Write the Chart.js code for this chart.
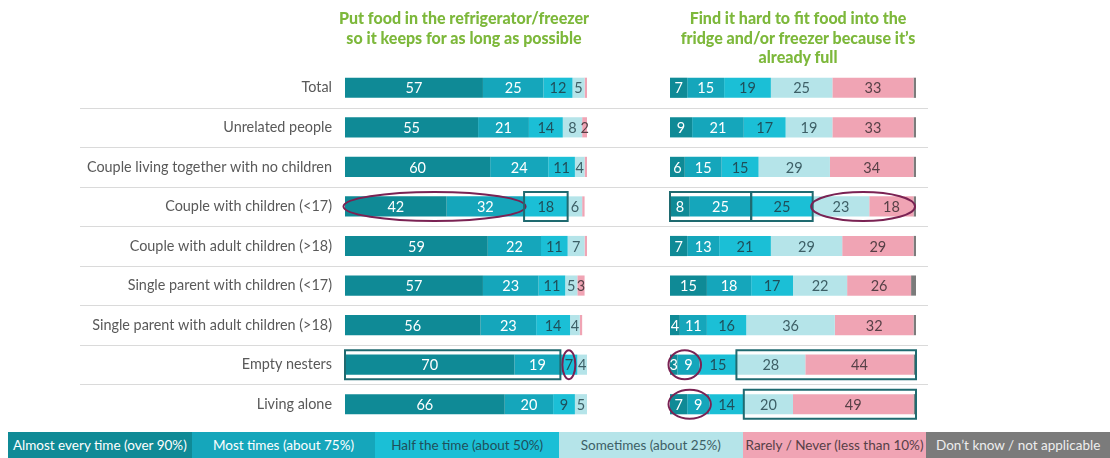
<!DOCTYPE html>
<html lang="en">
<head>
    <meta charset="UTF-8">
    <title>Fridge and freezer habits by household type</title>
    <style>
        body {
            margin: 0;
            width: 1110px;
            height: 458px;
            position: relative;
            overflow: hidden;
            background: #fff;
            font-family: Lato, "Open Sans", sans-serif;
        }
        .chartBox {
            position: absolute;
            top: 0;
            height: 446px;
        }
        #leftBox { left: 0; width: 700px; }
        #rightBox { left: 560px; width: 550px; }
        .title {
            position: absolute;
            top: 8px;
            width: 340px;
            margin-left: -170px;
            text-align: center;
            font-weight: 900;
            font-size: 16px;
            line-height: 19.5px;
            color: #7db83b;
        }
        #legend {
            position: absolute;
            left: 8px;
            top: 432px;
            width: 1102px;
            height: 26px;
            display: flex;
        }
        #legend div {
            flex: 1;
            text-align: center;
            font-size: 13.5px;
            line-height: 26px;
            white-space: nowrap;
        }
    </style>
    <script src="https://cdn.jsdelivr.net/npm/chart.js"></script>
</head>
<body>

<div class="chartBox" id="leftBox"><canvas id="leftChart"></canvas></div>
<div class="chartBox" id="rightBox"><canvas id="rightChart"></canvas></div>
<div class="title" style="left:464px;">Put food in the refrigerator/freezer<br>so it keeps for as long as possible</div>
<div class="title" style="left:798px;">Find it hard to fit food into the<br>fridge and/or freezer because it&#8217;s<br>already full</div>
<div id="legend"></div>

<script>
    const categories = [
        "Total", "Unrelated people", "Couple living together with no children",
        "Couple with children (<17)", "Couple with adult children (>18)",
        "Single parent with children (<17)", "Single parent with adult children (>18)",
        "Empty nesters", "Living alone"
    ];

    const seriesNames = [
        "Almost every time (over 90%)", "Most times (about 75%)", "Half the time (about 50%)",
        "Sometimes (about 25%)", "Rarely / Never (less than  10%)", "Don\u2019t know / not applicable"
    ];
    const seriesColors = ["#0f8a96", "#15a6bb", "#1bbfd6", "#b5e4e9", "#f0a4b4", "#7b7b7b"];
    const labelColors = ["#ffffff", "#ffffff", "#1f4f5a", "#3d5f66", "#574047", "#ffffff"];

    // Put food in the refrigerator/freezer so it keeps for as long as possible
    const keepAlmost   = [57, 55, 60, 42, 59, 57, 56, 70, 66];
    const keepMost     = [25, 21, 24, 32, 22, 23, 23, 19, 20];
    const keepHalf     = [12, 14, 11, 18, 11, 11, 14, 7, 9];
    const keepSome     = [5, 8, 4, 6, 7, 5, 4, 4, 5];
    const keepRarely   = [1, 2, 1, 1, 1, 3, 1, 0, 0];
    const keepDontKnow = [0, 0, 0, 0, 0, 0, 0, 0, 0];

    // Find it hard to fit food into the fridge and/or freezer because it's already full
    const fullAlmost   = [7, 9, 6, 8, 7, 15, 4, 3, 7];
    const fullMost     = [15, 21, 15, 25, 13, 18, 11, 9, 9];
    const fullHalf     = [19, 17, 15, 25, 21, 17, 16, 15, 14];
    const fullSome     = [25, 19, 29, 23, 29, 22, 36, 28, 20];
    const fullRarely   = [33, 33, 34, 18, 29, 26, 32, 44, 49];
    const fullDontKnow = [1, 1, 1, 1, 1, 2, 1, 1, 1];

    // highlighted segments: row index, first series, series after last, shape
    const leftHighlights = [
        { row: 3, from: 0, to: 2, shape: "ellipse" },
        { row: 3, from: 2, to: 3, shape: "box" },
        { row: 7, from: 0, to: 2, shape: "box" },
        { row: 7, from: 2, to: 3, shape: "ellipse" }
    ];
    const rightHighlights = [
        { row: 3, from: 0, to: 2, shape: "box" },
        { row: 3, from: 2, to: 3, shape: "box" },
        { row: 3, from: 3, to: 5, shape: "ellipse" },
        { row: 7, from: 0, to: 2, shape: "ellipse" },
        { row: 7, from: 3, to: 6, shape: "box" },
        { row: 8, from: 0, to: 2, shape: "ellipse" },
        { row: 8, from: 3, to: 6, shape: "box" }
    ];

    // legend as coloured boxes with the text inside
    const legend = document.getElementById("legend");
    seriesNames.forEach((name, i) => {
        const d = document.createElement("div");
        d.textContent = name;
        d.style.background = seriesColors[i];
        d.style.color = i === 5 ? "#eeeeee" : labelColors[i];
        legend.appendChild(d);
    });

    const rowLines = {
        id: "rowLines",
        beforeDatasetsDraw(chart, args, opts) {
            const ctx = chart.ctx, y = chart.scales.y;
            const x1 = opts.from, x2 = chart.chartArea.right + opts.pastRight;
            ctx.save();
            ctx.strokeStyle = "#dadada";
            ctx.lineWidth = 1.2;
            for (let i = 0; i < categories.length - 1; i++) {
                const py = Math.round((y.getPixelForValue(i) + y.getPixelForValue(i + 1)) / 2) + 0.5;
                ctx.beginPath();
                ctx.moveTo(x1, py);
                ctx.lineTo(x2, py);
                ctx.stroke();
            }
            ctx.restore();
        }
    };

    const barLabels = {
        id: "barLabels",
        afterDatasetsDraw(chart) {
            const ctx = chart.ctx;
            ctx.save();
            ctx.font = "14.5px Lato, sans-serif";
            ctx.textAlign = "center";
            ctx.textBaseline = "middle";
            chart.data.datasets.forEach((ds, di) => {
                if (di === 5) return;
                chart.getDatasetMeta(di).data.forEach((bar, i) => {
                    const v = ds.data[i];
                    if (v < 2) return;
                    ctx.fillStyle = labelColors[di];
                    ctx.fillText(v, (bar.x + bar.base) / 2, bar.y + 1);
                });
            });
            ctx.restore();
        }
    };

    const highlights = {
        id: "highlights",
        afterDraw(chart, args, opts) {
            const ctx = chart.ctx, x = chart.scales.x, y = chart.scales.y;
            const sets = chart.data.datasets;
            ctx.save();
            ctx.lineWidth = 2;
            opts.items.forEach(h => {
                let start = 0, end = 0;
                for (let s = 0; s < h.to; s++) {
                    if (s < h.from) start += sets[s].data[h.row];
                    end += sets[s].data[h.row];
                }
                const x1 = x.getPixelForValue(start), x2 = x.getPixelForValue(end);
                const cy = y.getPixelForValue(h.row);
                ctx.beginPath();
                if (h.shape === "ellipse") {
                    ctx.strokeStyle = "#7a2253";
                    const rx = (x2 - x1) / 2 + (x2 - x1 < 20 ? -2 : 1.5);
                    ctx.ellipse((x1 + x2) / 2, cy, rx, 14.5, 0, 0, Math.PI * 2);
                } else {
                    ctx.strokeStyle = "#1f6a70";
                    ctx.rect(x1, cy - 14.5, x2 - x1, 29);
                }
                ctx.stroke();
            });
            ctx.restore();
        }
    };

    function makeDatasets(values) {
        return values.map((data, i) => ({
            label: seriesNames[i],
            data: data,
            backgroundColor: seriesColors[i],
            borderWidth: 0,
            barPercentage: 0.51,
            categoryPercentage: 1
        }));
    }

    function makeChart(id, values, withLabels, padding, lineOpts, items) {
        return new Chart(document.getElementById(id), {
            type: "bar",
            data: { labels: categories, datasets: makeDatasets(values) },
            plugins: [rowLines, barLabels, highlights],
            options: {
                indexAxis: "y",
                responsive: true,
                maintainAspectRatio: false,
                animation: false,
                layout: { padding: padding },
                plugins: {
                    legend: { display: false },
                    tooltip: { enabled: false },
                    rowLines: lineOpts,
                    highlights: { items: items }
                },
                scales: {
                    x: { stacked: true, min: 0, max: 100, display: false },
                    y: {
                        stacked: true,
                        display: withLabels,
                        grid: { display: false, drawTicks: false },
                        border: { display: false },
                        ticks: {
                            color: "#595959",
                            padding: 13,
                            font: { family: "Lato, sans-serif", size: 14.4 }
                        },
                        afterFit(scale) { if (withLabels) scale.width = 345; }
                    }
                }
            }
        });
    }

    makeChart("leftChart",
        [keepAlmost, keepMost, keepHalf, keepSome, keepRarely, keepDontKnow],
        true, { top: 68, bottom: 22, left: 0, right: 113 },
        { from: 80, pastRight: 30 }, leftHighlights);

    makeChart("rightChart",
        [fullAlmost, fullMost, fullHalf, fullSome, fullRarely, fullDontKnow],
        false, { top: 68, bottom: 22, left: 110, right: 194 },
        { from: 40, pastRight: 12 }, rightHighlights);
</script>

</body>
</html>
